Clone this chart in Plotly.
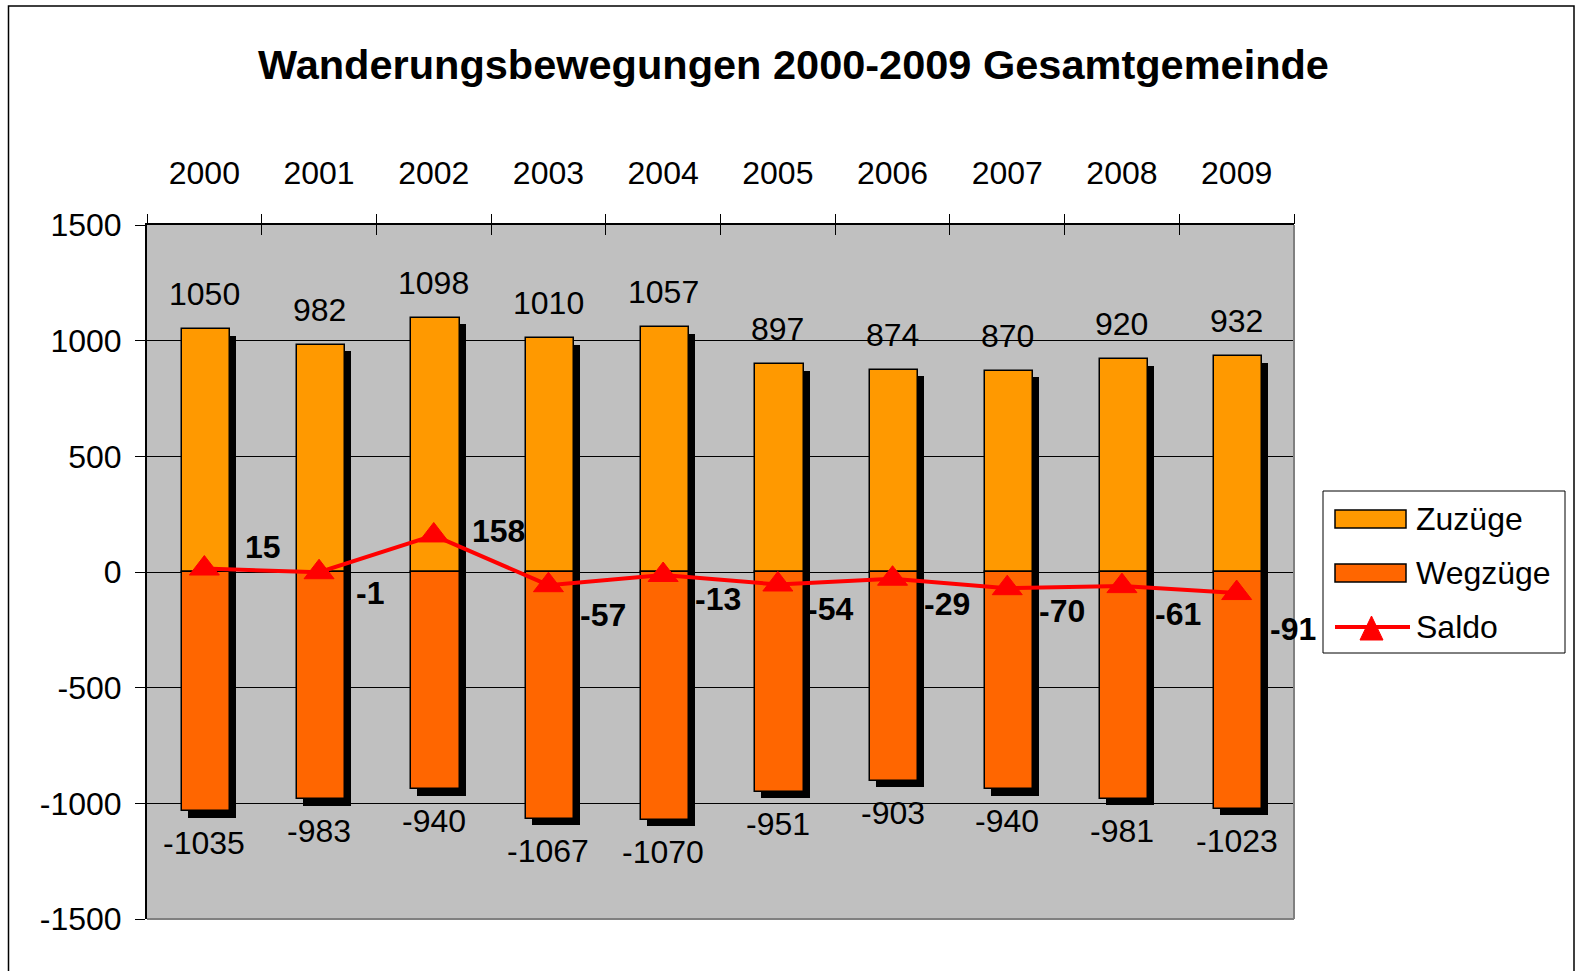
import plotly.graph_objects as go

# ---------------- data ----------------
years = ["2000", "2001", "2002", "2003", "2004", "2005", "2006", "2007", "2008", "2009"]
zuzuege = [1050, 982, 1098, 1010, 1057, 897, 874, 870, 920, 932]
wegzuege = [-1035, -983, -940, -1067, -1070, -951, -903, -940, -981, -1023]
saldo = [15, -1, 158, -57, -13, -54, -29, -70, -61, -91]
y_tick_vals = [1500, 1000, 500, 0, -500, -1000, -1500]
y_tick_labels = ["1500", "1000", "500", "0", "-500", "-1000", "-1500"]
series_names = ["Zuzüge", "Wegzüge", "Saldo"]
title_text = "Wanderungsbewegungen 2000-2009 Gesamtgemeinde"

# label placement for the Saldo values (pixels, right / down of the point)
saldo_label_dx = [39, 35, 36, 30, 30, 27, 29, 30, 31, 31]
saldo_label_dy = [-22, 21, -4, 30, 24, 25, 25, 23, 28, 36]

# ---------------- layout geometry ----------------
W, H = 1577, 971
ML, MR, MT, MB = 147, 283, 225, 52
PW = W - ML - MR
PH = H - MT - MB


def px(xp):
    return (xp - ML) / PW


def py(yp):
    return (H - MB - yp) / PH


FONT = "Liberation Sans, Arial, sans-serif"
C_ZU = "#FF9900"
C_WEG = "#FF6600"
C_SAL = "#FF0000"

x = list(range(len(years)))
bar_w = 0.42
bar_shift = 0.015
shadow_dx = 0.052
shadow_dy = 28

fig = go.Figure()

# shadows
fig.add_trace(go.Bar(
    x=x, y=[v - w for v, w in zip(zuzuege, wegzuege)],
    base=[w - shadow_dy for w in wegzuege],
    width=bar_w, offset=-bar_w / 2 + bar_shift + shadow_dx,
    marker=dict(color="black", line=dict(width=0)),
    showlegend=False, hoverinfo="skip"))

fig.add_trace(go.Bar(
    x=x, y=zuzuege, base=0, name=series_names[0],
    width=bar_w, offset=-bar_w / 2 + bar_shift,
    marker=dict(color=C_ZU, line=dict(color="black", width=1.5)),
    showlegend=False))
fig.add_trace(go.Bar(
    x=x, y=wegzuege, base=0, name=series_names[1],
    width=bar_w, offset=-bar_w / 2 + bar_shift,
    marker=dict(color=C_WEG, line=dict(color="black", width=1.5)),
    showlegend=False))
fig.add_trace(go.Scatter(
    x=x, y=saldo, name=series_names[2], mode="lines+markers",
    line=dict(color=C_SAL, width=4),
    marker=dict(symbol="triangle-up", size=26, color=C_SAL,
                line=dict(color=C_SAL, width=1)),
    showlegend=False))

# helper (empty) traces for the crossing tick marks
fig.add_trace(go.Scatter(x=[], y=[], xaxis="x2", yaxis="y", showlegend=False))
fig.add_trace(go.Scatter(x=[], y=[], xaxis="x3", yaxis="y", showlegend=False))
fig.add_trace(go.Scatter(x=[], y=[], xaxis="x", yaxis="y2", showlegend=False))

annotations = []
for i, v in enumerate(zuzuege):
    annotations.append(dict(x=i, y=v, text=str(v), showarrow=False,
                            xanchor="center", yanchor="middle", yshift=35,
                            font=dict(family=FONT, size=32, color="black")))
for i, v in enumerate(wegzuege):
    annotations.append(dict(x=i, y=v, text=str(v), showarrow=False,
                            xanchor="center", yanchor="middle", yshift=-32,
                            font=dict(family=FONT, size=32, color="black")))
for i, v in enumerate(saldo):
    annotations.append(dict(x=i, y=v, text=str(v), showarrow=False,
                            xanchor="left", yanchor="middle",
                            xshift=saldo_label_dx[i], yshift=-saldo_label_dy[i],
                            font=dict(family=FONT, size=32, color="black",
                                      weight="bold")))

# custom legend texts
leg_rows = [519, 573, 627]
for name, yy in zip(series_names, leg_rows):
    annotations.append(dict(xref="paper", yref="paper", x=px(1414), y=py(yy),
                            text=name, showarrow=False, xanchor="left",
                            yanchor="middle",
                            font=dict(family=FONT, size=32, color="black")))

shapes = [
    # outer chart border
    dict(type="rect", xref="paper", yref="paper", x0=px(8.5), x1=px(1574),
         y0=py(1010), y1=py(6), line=dict(color="black", width=1.5),
         fillcolor="rgba(0,0,0,0)", layer="above"),
    # plot area border bottom / right
    dict(type="line", xref="paper", yref="paper", x0=0, x1=1, y0=0, y1=0,
         line=dict(color="#808080", width=2), layer="above"),
    dict(type="line", xref="paper", yref="paper", x0=1, x1=1, y0=0, y1=1,
         line=dict(color="#808080", width=2), layer="above"),
    # legend box
    dict(type="rect", xref="paper", yref="paper", x0=px(1323), x1=px(1565),
         y0=py(653), y1=py(491), line=dict(color="black", width=1),
         fillcolor="white", layer="above"),
    dict(type="rect", xref="paper", yref="paper", x0=px(1335), x1=px(1406),
         y0=py(528), y1=py(510), line=dict(color="black", width=1.5),
         fillcolor=C_ZU, layer="above"),
    dict(type="rect", xref="paper", yref="paper", x0=px(1335), x1=px(1406),
         y0=py(582), y1=py(564), line=dict(color="black", width=1.5),
         fillcolor=C_WEG, layer="above"),
    dict(type="line", xref="paper", yref="paper", x0=px(1335), x1=px(1410),
         y0=py(627), y1=py(627), line=dict(color=C_SAL, width=4), layer="above"),
    dict(type="path", xref="paper", yref="paper",
         path="M {a},{b} L {c},{d} L {e},{f} Z".format(
             a=px(1360), b=py(640), c=px(1383), d=py(640), e=px(1371.5), f=py(616)),
         line=dict(color=C_SAL, width=1), fillcolor=C_SAL, layer="above"),
]

bounds = [i - 0.5 for i in range(len(years) + 1)]
xr = [-0.5, len(years) - 0.5]
yr = [-1500, 1500]

fig.update_layout(
    width=W, height=H,
    margin=dict(l=ML, r=MR, t=MT, b=MB, pad=0),
    paper_bgcolor="white", plot_bgcolor="#C0C0C0",
    barmode="overlay", bargap=0,
    showlegend=False,
    font=dict(family=FONT, color="black"),
    title=dict(text=title_text, x=0.5 + 5 / W, xanchor="center",
               y=1 - 64 / H, yanchor="middle",
               font=dict(family=FONT, size=41.5, color="black", weight="bold")),
    xaxis=dict(range=xr, side="top", tickmode="array", tickvals=x, ticktext=years,
               ticks="", showgrid=False, zeroline=False, showline=True,
               linecolor="black", linewidth=2, tickfont=dict(size=32),
               ticklabelstandoff=26, fixedrange=True),
    xaxis2=dict(range=xr, overlaying="x", side="top", tickmode="array",
                tickvals=bounds, ticks="outside", ticklen=10, tickwidth=1,
                tickcolor="black", showticklabels=False, showgrid=False,
                zeroline=False, showline=False),
    xaxis3=dict(range=xr, overlaying="x", side="top", tickmode="array",
                tickvals=bounds, ticks="inside", ticklen=10, tickwidth=1,
                tickcolor="black", showticklabels=False, showgrid=False,
                zeroline=False, showline=False),
    yaxis=dict(range=yr, tickmode="array", tickvals=y_tick_vals,
               ticktext=y_tick_labels, ticks="outside", ticklen=10, tickwidth=1,
               tickcolor="black", showgrid=True, gridcolor="black", gridwidth=1,
               zeroline=True, zerolinecolor="black", zerolinewidth=1,
               showline=True, linecolor="black", linewidth=2,
               tickfont=dict(size=32), ticklabelstandoff=7),
    yaxis2=dict(range=yr, overlaying="y", side="left", tickmode="array",
                tickvals=y_tick_vals, ticks="inside", ticklen=10, tickwidth=1,
                tickcolor="black", showticklabels=False, showgrid=False,
                zeroline=False, showline=False),
    annotations=annotations,
    shapes=shapes,
)

fig.write_html("out.html", config={"displayModeBar": False},
               post_script="document.body.style.margin='0';")
